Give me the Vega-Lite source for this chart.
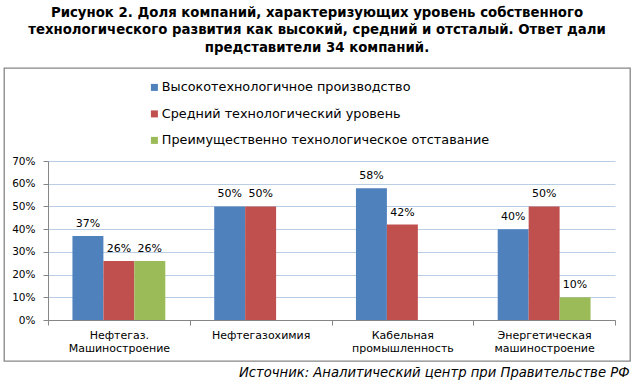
{
  "$schema": "https://vega.github.io/schema/vega-lite/v6.json",
  "autosize": "none",
  "width": 626,
  "height": 293,
  "padding": {"left": 4, "top": 68, "right": 6, "bottom": 23},
  "background": "white",
  "title": {
    "text": ["Рисунок 2. Доля компаний, характеризующих уровень собственного", "технологического развития как высокий, средний и отсталый. Ответ дали", "представители 34 компаний."],
    "font": "DejaVu Sans",
    "fontSize": 13.3,
    "fontWeight": "bold",
    "color": "#000000",
    "anchor": "middle",
    "frame": "group",
    "offset": 14,
    "lineHeight": 17.5
  },
  "config": {
    "font": "DejaVu Sans",
    "view": {"stroke": "#868686", "strokeWidth": 1.3}
  },
  "data": {
    "values": [
      {"category": "Нефтегаз. Машиностроение", "series": "Высокотехнологичное производство", "value": 0.37},
      {"category": "Нефтегаз. Машиностроение", "series": "Средний технологический уровень", "value": 0.26},
      {"category": "Нефтегаз. Машиностроение", "series": "Преимущественно технологическое отставание", "value": 0.26},
      {"category": "Нефтегазохимия", "series": "Высокотехнологичное производство", "value": 0.50},
      {"category": "Нефтегазохимия", "series": "Средний технологический уровень", "value": 0.50},
      {"category": "Кабельная промышленность", "series": "Высокотехнологичное производство", "value": 0.58},
      {"category": "Кабельная промышленность", "series": "Средний технологический уровень", "value": 0.42},
      {"category": "Энергетическая машиностроение", "series": "Высокотехнологичное производство", "value": 0.40},
      {"category": "Энергетическая машиностроение", "series": "Средний технологический уровень", "value": 0.50},
      {"category": "Энергетическая машиностроение", "series": "Преимущественно технологическое отставание", "value": 0.10}
    ]
  },
  "encoding": {
    "x": {
      "field": "category",
      "type": "nominal",
      "sort": ["Нефтегаз. Машиностроение", "Нефтегазохимия", "Кабельная промышленность", "Энергетическая машиностроение"],
      "scale": {"range": [44, 611], "paddingInner": 0, "paddingOuter": 0},
      "axis": {
        "orient": "bottom",
        "offset": -41,
        "tickBand": "extent",
        "labelAngle": 0,
        "labelExpr": "split(datum.label, ' ')",
        "labelFontSize": 11,
        "labelLineHeight": 13,
        "labelPadding": 4,
        "labelColor": "#000000",
        "labelBaseline": "top",
        "domainColor": "#868686",
        "tickColor": "#868686",
        "tickSize": 5,
        "grid": false,
        "title": "Источник: Аналитический центр при Правительстве РФ",
        "titleFontStyle": "italic",
        "titleFontWeight": "normal",
        "titleFontSize": 13.2,
        "titleColor": "#000000",
        "titleAlign": "right",
        "titleAnchor": null,
        "titleX": 625,
        "titleY": 56,
        "titleBaseline": "alphabetic"
      }
    },
    "xOffset": {
      "field": "series",
      "type": "nominal",
      "sort": ["Высокотехнологичное производство", "Средний технологический уровень", "Преимущественно технологическое отставание"],
      "scale": {"paddingInner": 0, "paddingOuter": 0.79}
    },
    "y": {
      "field": "value",
      "type": "quantitative",
      "scale": {"domain": [0, 0.7], "range": [252, 93], "nice": false, "zero": true},
      "axis": {
        "offset": -44,
        "values": [0, 0.1, 0.2, 0.3, 0.4, 0.5, 0.6, 0.7],
        "format": ".0%",
        "grid": true,
        "gridColor": "#B9CDE5",
        "gridWidth": 1,
        "domainColor": "#868686",
        "tickColor": "#868686",
        "tickSize": 5,
        "labelPadding": 8,
        "labelFontSize": 10.5,
        "labelColor": "#000000",
        "title": null
      }
    }
  },
  "layer": [
    {
      "mark": {"type": "bar"},
      "encoding": {
        "color": {
          "field": "series",
          "type": "nominal",
          "sort": ["Высокотехнологичное производство", "Средний технологический уровень", "Преимущественно технологическое отставание"],
          "scale": {"range": ["#4F81BD", "#C0504D", "#9BBB59"]},
          "legend": {
            "orient": "none",
            "legendX": 144,
            "legendY": 13,
            "direction": "vertical",
            "title": null,
            "symbolType": "square",
            "symbolSize": 49,
            "symbolStrokeWidth": 0,
            "labelFontSize": 12.8,
            "labelColor": "#000000",
            "labelOffset": 1,
            "rowPadding": 12.5,
            "padding": 0,
            "labelLimit": 500
          }
        }
      }
    },
    {
      "mark": {"type": "text", "dy": -12, "baseline": "middle", "fontSize": 11, "color": "#000000"},
      "encoding": {
        "text": {"field": "value", "type": "quantitative", "format": ".0%"}
      }
    }
  ]
}
